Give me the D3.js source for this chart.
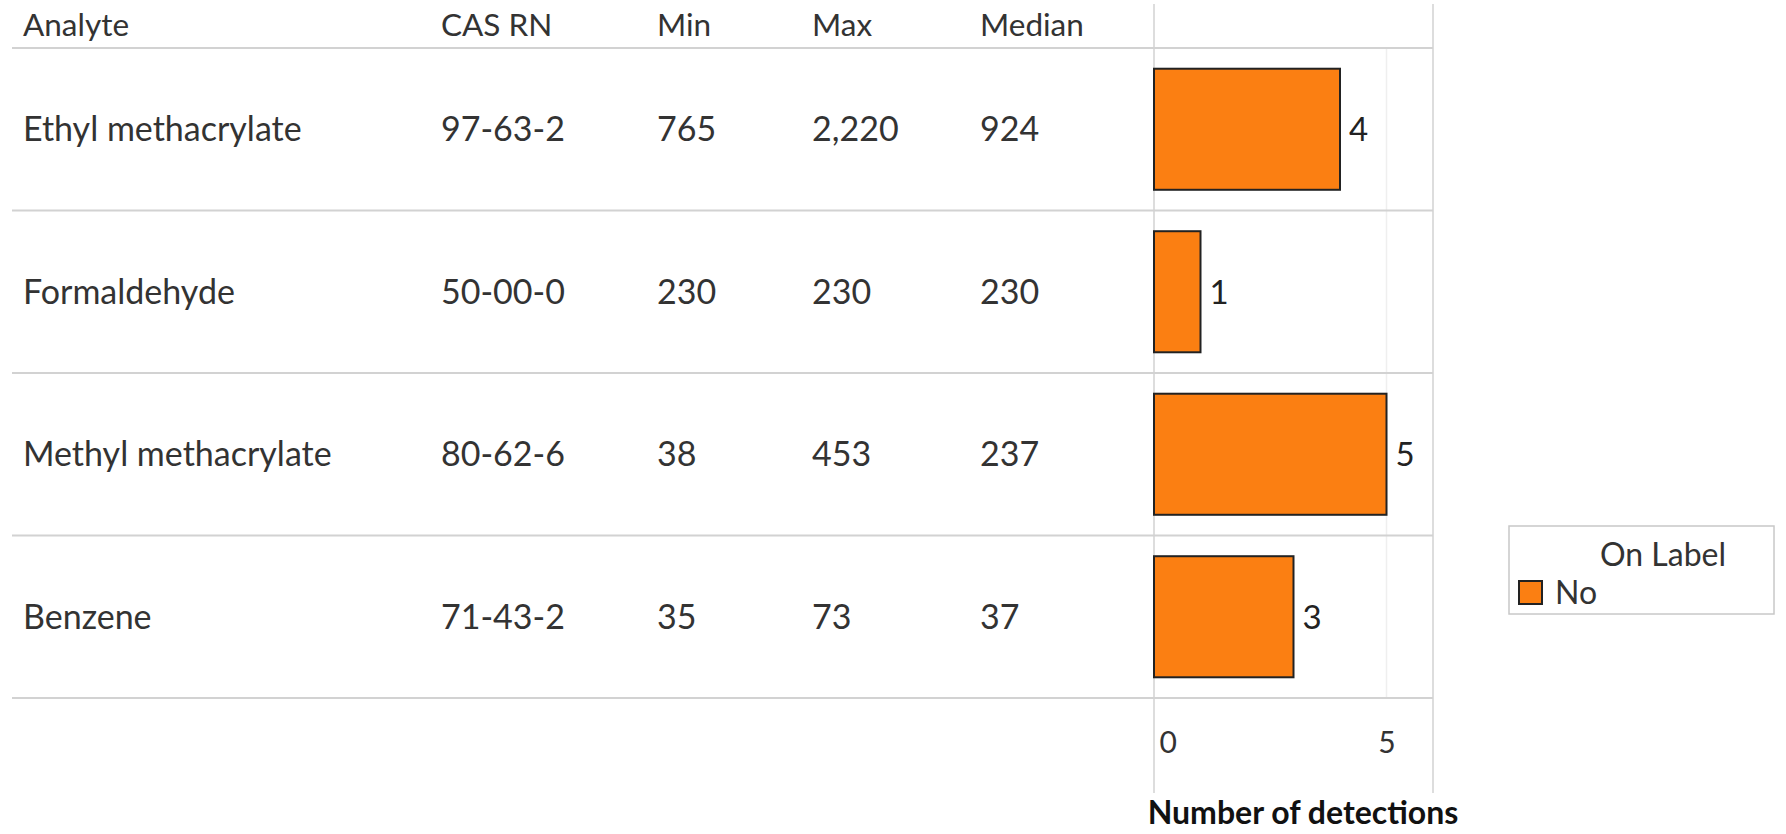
<!DOCTYPE html>
<html>
<head>
<meta charset="utf-8">
<script src="https://cdn.jsdelivr.net/npm/d3@7"></script>
<style>
  html, body { margin: 0; padding: 0; background: #fff; }
  svg { display: block; font-family: Lato, "Open Sans", sans-serif; }
</style>
</head>
<body>
<svg id="chart" width="1786" height="834"></svg>
<script>
// Table columns
const headers = ["Analyte", "CAS RN", "Min", "Max", "Median"];
const analytes = ["Ethyl methacrylate", "Formaldehyde", "Methyl methacrylate", "Benzene"];
const casRN = ["97-63-2", "50-00-0", "80-62-6", "71-43-2"];
const minVals = [765, 230, 38, 35];
const maxVals = [2220, 230, 453, 73];
const medianVals = [924, 230, 237, 37];

// Bar series: number of detections per analyte
const detections = [4, 1, 5, 3];
const xTicks = [0, 5];
const axisTitle = "Number of detections";
const legendTitle = "On Label";
const legendItems = ["No"];

// Layout
const tableLeft = 12;
const colX = [23, 441, 657, 812, 980];
const headerTop = 4, headerBottom = 48, rowsBottom = 698, axisBottom = 793;
const paneLeft = 1154;
const barColor = "#fb7f12";
const lineColor = "#d2d2d2";
const textColor = "#333333";
const bodySize = 34, headerSize = 31.5;

const svg = d3.select("#chart");

const x = d3.scaleLinear().domain([0, 6]).range([paneLeft, paneLeft + 46.5 * 6]);
const paneRight = x(6);

const y = d3.scaleBand()
  .domain(analytes)
  .range([headerBottom, rowsBottom])
  .paddingInner(0.255)
  .paddingOuter(0.1275);
const rowStep = y.step();
const rowCenter = d => y(d) + y.bandwidth() / 2;

// Faint gridline at the 5 tick
svg.append("line")
  .attr("x1", x(5)).attr("x2", x(5))
  .attr("y1", headerBottom).attr("y2", rowsBottom)
  .attr("stroke", "#efefef").attr("stroke-width", 1.5);

// Horizontal row dividers (header line + one under every row)
const dividers = [headerBottom].concat(analytes.map(d => y(d) - y.paddingOuter() * rowStep + rowStep));
svg.selectAll("line.row")
  .data(dividers)
  .join("line")
  .attr("class", "row")
  .attr("x1", tableLeft).attr("x2", paneRight)
  .attr("y1", d => d).attr("y2", d => d)
  .attr("stroke", lineColor).attr("stroke-width", 2);

// Vertical pane borders
svg.selectAll("line.pane")
  .data([paneLeft, paneRight])
  .join("line")
  .attr("class", "pane")
  .attr("x1", d => d).attr("x2", d => d)
  .attr("y1", headerTop).attr("y2", axisBottom)
  .attr("stroke", lineColor).attr("stroke-width", 1.5);

// Header row
svg.selectAll("text.header")
  .data(headers)
  .join("text")
  .attr("class", "header")
  .attr("x", (d, i) => colX[i])
  .attr("y", 36)
  .attr("font-size", headerSize)
  .attr("fill", textColor)
  .text(d => d);

// Table cells
const fmt = d3.format(",");
const rows = analytes.map((a, i) => [a, casRN[i], fmt(minVals[i]), fmt(maxVals[i]), fmt(medianVals[i])]);
const rowG = svg.selectAll("g.tablerow")
  .data(rows)
  .join("g")
  .attr("class", "tablerow")
  .attr("transform", (d, i) => `translate(0,${rowCenter(analytes[i]) + 0.36 * bodySize})`);
rowG.selectAll("text")
  .data(d => d)
  .join("text")
  .attr("x", (d, i) => colX[i])
  .attr("font-size", bodySize)
  .attr("fill", textColor)
  .text(d => d);

// Bars
svg.selectAll("rect.bar")
  .data(detections)
  .join("rect")
  .attr("class", "bar")
  .attr("x", x(0))
  .attr("y", (d, i) => y(analytes[i]))
  .attr("width", d => x(d) - x(0))
  .attr("height", y.bandwidth())
  .attr("fill", barColor)
  .attr("stroke", "#222")
  .attr("stroke-width", 2);

// Value labels
svg.selectAll("text.value")
  .data(detections)
  .join("text")
  .attr("class", "value")
  .attr("x", d => x(d) + 9)
  .attr("y", (d, i) => rowCenter(analytes[i]) + 0.36 * 33)
  .attr("font-size", 33)
  .attr("fill", "#222")
  .text(d => d);

// X axis
const axis = d3.axisBottom(x).tickValues(xTicks).tickSize(0).tickPadding(0).tickFormat(d3.format("d"));
const axisG = svg.append("g")
  .attr("transform", `translate(0,${rowsBottom})`)
  .call(axis);
axisG.select(".domain").remove();
axisG.selectAll("text")
  .attr("font-family", "Lato, 'Open Sans', sans-serif")
  .attr("font-size", 30)
  .attr("fill", textColor)
  .attr("dy", null)
  .attr("y", 55)
  .attr("text-anchor", d => d === 0 ? "start" : "middle")
  .attr("x", d => d === 0 ? 5 : 0);

svg.append("text")
  .attr("x", 1303)
  .attr("y", 824)
  .attr("text-anchor", "middle")
  .attr("font-size", 32)
  .attr("font-weight", "bold")
  .attr("fill", "#111")
  .text(axisTitle);

// Legend
const lg = svg.append("g").attr("transform", "translate(1509,526)");
lg.append("rect")
  .attr("x", 0).attr("y", 0)
  .attr("width", 265).attr("height", 88)
  .attr("fill", "#fff")
  .attr("stroke", "#c8c8c8").attr("stroke-width", 1.5);
lg.append("text")
  .attr("x", 154).attr("y", 40)
  .attr("text-anchor", "middle")
  .attr("font-size", 32)
  .attr("fill", textColor)
  .text(legendTitle);
const li = lg.selectAll("g.item")
  .data(legendItems)
  .join("g")
  .attr("class", "item")
  .attr("transform", (d, i) => `translate(10,${55 + i * 30})`);
li.append("rect")
  .attr("width", 23).attr("height", 23)
  .attr("fill", barColor)
  .attr("stroke", "#222").attr("stroke-width", 2);
li.append("text")
  .attr("x", 36).attr("y", 23)
  .attr("font-size", 32)
  .attr("fill", textColor)
  .text(d => d);
</script>
</body>
</html>
